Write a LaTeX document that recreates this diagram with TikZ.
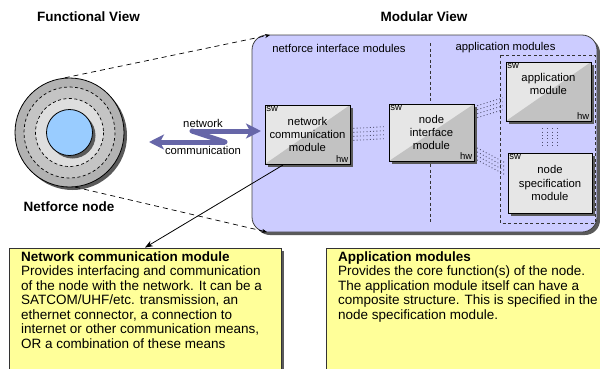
\documentclass[tikz,border=0pt]{standalone}
\usepackage{fontspec}
\setmainfont{Liberation Sans}
\usetikzlibrary{arrows.meta,shadows}
\definecolor{lav}{HTML}{CCCCFF}
\definecolor{yel}{HTML}{FFFF99}
\definecolor{commcol}{HTML}{6666A8}
\definecolor{blu}{HTML}{99CCFF}
\definecolor{modl}{HTML}{E6E6E6}
\definecolor{modd}{HTML}{C2C2C2}
\definecolor{shad}{HTML}{5A5A5A}
\definecolor{ringA}{HTML}{B2B2B2}
\definecolor{ringB}{HTML}{C4C4C4}
\definecolor{ringC}{HTML}{DEDEDE}
\definecolor{dotcol}{HTML}{505070}
\newcommand\myBig{\fontsize{13.5}{14.5}\selectfont}
\newcommand\myMid{\fontsize{11.3}{13.3}\selectfont}
\newcommand\mySmall{\fontsize{9.5}{9.5}\selectfont}
\tikzset{
  shd/.style={drop shadow={shadow xshift=3pt,shadow yshift=-3pt,fill=shad,opacity=1}},
  modbase/.style={draw=black, line width=0.8pt, fill=modl, align=center, font=\myMid, shd,
    inner sep=0pt},
  modsplit/.style={modbase, path picture={\fill[modd] (path picture bounding box.south east) --
      (path picture bounding box.north east) -- (path picture bounding box.south west) -- cycle;}},
  swlab/.style={anchor=north west, font=\mySmall, inner sep=1.5pt},
  hwlab/.style={anchor=south east, font=\mySmall, inner sep=2pt},
  dotline/.style={dotcol, line width=0.9pt, dash pattern=on 0.9pt off 2.4pt, shorten <=3pt, shorten >=3pt},
  commline/.style={commcol, line width=5pt},
  commhead/.style={-{Stealth[length=15pt,width=15pt,inset=4pt]}},
  yelbox/.style={draw=black!80, line width=0.8pt, fill=yel, shd},
  boxtext/.style={anchor=north west, inner sep=0pt, align=left, font=\myBig},
  heading/.style={font=\myBig\bfseries},
  lab/.style={font=\myMid},
}
\begin{document}
\begin{tikzpicture}[x=1pt,y=-1pt]
\useasboundingbox (0,0) rectangle (600,368);

% headings
\node[heading] (fv) at (88.5,17) {Functional View};
\node[heading] (mv) at (424,17) {Modular View};

% functional view circle
\node[circle, draw=black, line width=0.8pt, fill=ringA, minimum size=109pt, inner sep=0pt, shd] (circ) at (69.5,132.5) {};
\fill[ringB] (circ.center) circle (45.5);
\draw[dash pattern=on 3pt off 2.5pt, line width=0.7pt] (circ.center) circle (45.5);
\fill[ringC] (circ.center) circle (34);
\draw[dash pattern=on 3pt off 2.5pt, line width=0.7pt] (circ.center) circle (34);
\node[circle, draw=black, line width=0.8pt, fill=blu, minimum size=46pt, inner sep=0pt, shd] (core) at (circ.center) {};
\node[heading] (nfn) at (69,207) {Netforce node};

% modular view box
\node[draw=black!75, line width=0.8pt, fill=lav, rounded corners=15pt, minimum width=345pt, minimum height=197pt, inner sep=0pt, shd] (modview) at (424.5,133.5) {};

% zoom lines
\coordinate (ztop) at (270,35);
\coordinate (zbot) at (267,232);
\draw[dash pattern=on 5pt off 4pt, line width=0.7pt, -{Stealth[length=5pt,width=4pt]}] (circ.95) -- (ztop);
\draw[dash pattern=on 5pt off 4pt, line width=0.7pt, -{Stealth[length=5pt,width=4pt]}] (circ.-84) -- (zbot);

% section labels
\node[lab] (nim-lab) at (339,48) {netforce interface modules};
\node[lab] (app-lab) at (505.5,48) {application modules};
\coordinate (vtop) at (430,43);
\coordinate (vbot) at (430,222);
\draw[dash pattern=on 3pt off 2.5pt, line width=0.7pt, black!80] (vtop) -- (vbot);
\coordinate (appA) at (500,55);
\coordinate (appB) at (595,223);
\draw[dash pattern=on 3pt off 2.5pt, line width=0.8pt, black!80] (appA) rectangle (appB);

% modules
\node[modsplit, minimum width=85pt, minimum height=59pt] (ncm) at (307.5,134.5) {network\\communication\\module};
\node[modsplit, minimum width=85pt, minimum height=57pt] (nim) at (431.5,132.5) {node\\interface\\module};
\node[modsplit, minimum width=85pt, minimum height=59pt] (am) at (548.5,91.5) {application\\module\\[2pt]};
\node[modbase, minimum width=84pt, minimum height=60pt] (nsm) at (550,183) {node\\specification\\module};
\foreach \m in {ncm,nim,am,nsm} {\node[swlab] (\m-sw) at (\m.north west) {sw};}
\foreach \m in {ncm,nim,am} {\node[hwlab] (\m-hw) at (\m.south east) {hw};}

% dotted links
\foreach \o in {-6,-2,2,6} {
  \draw[dotline, transform canvas={yshift=\o pt}] (ncm.east) -- (nim.west);
  \draw[dotline, transform canvas={yshift=\o pt}] (nim.25) -- (am.195);
  \draw[dotline, transform canvas={yshift=\o pt}] (nim.-25) -- (nsm.163);
}
\foreach \o in {-7.5,-2.5,2.5,7.5} {
  \draw[dotline, shorten <=7pt, shorten >=5pt, transform canvas={xshift=\o pt}] (am.south -| nsm.north) -- (nsm.north);
}

% communication arrow
\coordinate (cA) at (192,131);
\coordinate (cB) at (261,131);
\coordinate (cC) at (225,142);
\coordinate (cD) at (149,142);
\draw[commline, line cap=round] (cA) -- (cC);
\draw[commline, commhead] (cA) -- (cB);
\draw[commline, commhead] (cC) -- (cD);
\node[lab] (netlab) at (203,123) {network};
\node[lab] (comlab) at (203,150) {communication};

% yellow boxes
\node[yelbox, minimum width=272pt, minimum height=124pt, inner sep=0pt] (ncbox) at (145,310) {};
\node[yelbox, minimum width=290pt, minimum height=124pt, inner sep=0pt] (apbox) at (471,310) {};
\coordinate (ncmfoot) at (283,165);
\draw[line width=0.8pt, -{Stealth[length=8pt,width=6pt]}] (ncmfoot) -- (ncbox.north);

\node[boxtext] (nctext) at (21,251.3) {\textbf{Network communication module}\\
Provides interfacing and communication\\
of the node with the network. It can be a\\
SATCOM/UHF/etc. transmission, an\\
ethernet connector, a connection to\\
internet or other communication means,\\
OR a combination of these means};
\node[boxtext] (aptext) at (338,251.3) {\textbf{Application modules}\\
Provides the core function(s) of the node.\\
The application module itself can have a\\
composite structure. This is specified in the\\
node specification module.};
\end{tikzpicture}
\end{document}
